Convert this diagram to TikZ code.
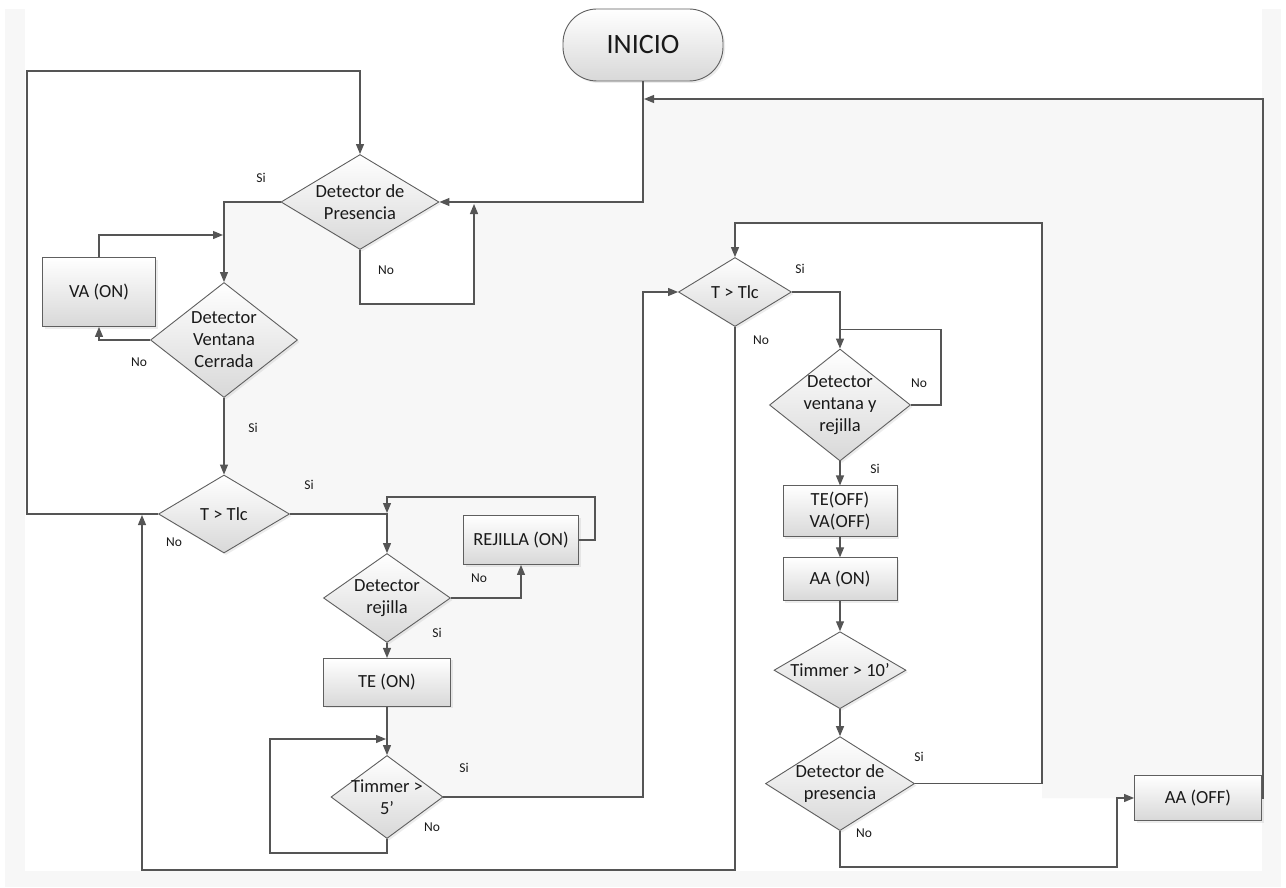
\documentclass[tikz,border=0pt]{standalone}
\usepackage{fontspec}
\setmainfont{Carlito}
\usepackage{tikz}
\usetikzlibrary{shapes.geometric,arrows.meta,positioning,calc,shadows}
\usepackage{xcolor}
\definecolor{cLine}{RGB}{85,85,85}
\definecolor{cEdge}{RGB}{95,95,95}
\definecolor{cShade}{RGB}{216,216,216}
\definecolor{cPage}{RGB}{247,247,247}
\definecolor{cText}{RGB}{25,25,25}
\tikzset{
  basebox/.style={draw=cEdge,line width=0.9pt,top color=white,bottom color=cShade,
                  align=center,text=cText,font=\fontsize{18.5}{22}\selectfont,
                  drop shadow={shadow xshift=2pt,shadow yshift=-2pt,opacity=0.15}},
  procnode/.style={basebox,rectangle,inner sep=2pt},
  termnode/.style={basebox,rectangle,rounded corners=34pt,
                   font=\fontsize{28}{32}\selectfont},
  decnode/.style={basebox,diamond,aspect=1.5,inner sep=-8pt},
  arr/.style={-{Triangle[length=10pt,width=8pt]},line width=1.2pt,color=cLine},
  plainline/.style={line width=1.2pt,color=cLine},
  lbl/.style={font=\fontsize{13.5}{16}\selectfont,text=cText,inner sep=0pt}
}
\begin{document}
\begin{tikzpicture}[x=1pt,y=-1pt,node distance=20pt]

  \useasboundingbox (0,0) rectangle (1286,888);
  % page background
  \fill[white] (0,0) rectangle (1286,888);
  \fill[cPage] (5,9) rectangle (1281,887);
  \fill[white] (25,9) rectangle (1262,871);
  \fill[cPage] (224,202) -- (643,202) -- (643,99) -- (1262,99) -- (1262,798)
               -- (1042,798) -- (1042,224) -- (735,224) -- (735,292) -- (643,292)
               -- (643,797) -- (387,797) -- (387,514) -- (224,514) -- cycle;
  \fill[white] (360,202) rectangle (474,303);

  \node[termnode,minimum width=160pt,minimum height=72pt] (inicio) at (643,45) {INICIO};

  \node[decnode,minimum width=158pt,minimum height=95pt] (ddp) at (360,202)
      {Detector de\\Presencia};
  \node[procnode,minimum width=113pt,minimum height=69pt] (vaon) at (99,292) {VA (ON)};
  \node[decnode,minimum width=147pt,minimum height=115pt] (dvc) at (224,340)
      {Detector\\Ventana\\Cerrada};
  \node[decnode,minimum width=131pt,minimum height=78pt] (tlc1) at (224,514) {T > Tlc};

  \node[decnode,minimum width=127pt,minimum height=89pt] (drej) at (387,598)
      {Detector\\rejilla};
  \node[procnode,minimum width=115pt,minimum height=49pt] (rejon) at (521,540)
      {REJILLA (ON)};
  \node[procnode,minimum width=127pt,minimum height=48pt,below=15pt of drej] (teon)
      {TE (ON)};
  \node[decnode,minimum width=112pt,minimum height=83pt] (t5) at (387,797)
      {Timmer >\\5'};

  % second column
  \node[decnode,minimum width=113pt,minimum height=69pt] (tlc2) at (735,292) {T > Tlc};
  \node[decnode,minimum width=141pt,minimum height=112pt] (dvyr) at (840,405)
      {Detector\\ventana y\\rejilla};
  \node[procnode,minimum width=114pt,minimum height=51pt,below=24pt of dvyr] (teva)
      {TE(OFF)\\VA(OFF)};
  \node[procnode,minimum width=114pt,minimum height=43pt,below=of teva] (aaon)
      {AA (ON)};
  \node[decnode,minimum width=132pt,minimum height=77pt,below=30pt of aaon] (t10)
      {Timmer > 10'};
  \node[decnode,minimum width=149pt,minimum height=94pt,below=27pt of t10] (dp2)
      {Detector de\\presencia};
  \node[procnode,minimum width=127pt,minimum height=45pt] (aaoff) at (1198,798)
      {AA (OFF)};

  \coordinate (ddp-j) at (474,204);
  \coordinate (va-j) at (223,235);
  \coordinate (rej-j) at (387,513);
  \coordinate (t5-j) at (386,739);
  \coordinate (tlc1-j) at (142,515);
  \coordinate (ini-j) at (644,99);

  \node[lbl] (ddp-si) at (261,178) {Si};
  \node[lbl] (ddp-no) at (386,270) {No};
  \node[lbl] (dvc-no) at (139,362) {No};
  \node[lbl] (dvc-si) at (253,428) {Si};
  \node[lbl] (tlc1-si) at (309,485) {Si};
  \node[lbl] (tlc1-no) at (174,542) {No};
  \node[lbl] (drej-no) at (479,578) {No};
  \node[lbl] (drej-si) at (437,633) {Si};
  \node[lbl] (t5-si) at (464,768) {Si};
  \node[lbl] (t5-no) at (432,827) {No};
  \node[lbl] (tlc2-si) at (800,269) {Si};
  \node[lbl] (tlc2-no) at (761,340) {No};
  \node[lbl] (dvyr-no) at (919,383) {No};
  \node[lbl] (dvyr-si) at (875,469) {Si};
  \node[lbl] (dp2-si) at (919,757) {Si};
  \node[lbl] (dp2-no) at (864,833) {No};

  \draw[arr] (inicio.south) |- (ddp.east);
  \draw[arr] (ddp.west) -| (dvc.north);
  \draw[arr] (ddp.south) -- ++(0,54) -| (ddp-j);
  \draw[arr] (vaon.north) |- (va-j);
  \draw[arr] (dvc.west) -| (vaon.south);
  \draw[arr] (dvc.south) -- (tlc1.north);
  \draw[arr] (tlc1.west) -| (27,71) -| (ddp.north);
  \draw[arr] (tlc1.east) -| (drej.north);
  \draw[arr] (rejon.east) -- ++(16,0) |- ($(rej-j)+(0,-16)$) -- (rej-j);
  \draw[arr] (drej.east) -| (rejon.south);
  \draw[arr] (drej.south) -- (teon.north);
  \draw[arr] (teon.south) -- (t5.north);
  \draw[arr] (t5.south) -- ++(0,14) -| (270,739) -- (t5-j);
  \draw[arr] (t5.east) -| ($(tlc2.west)+(-35,0)$) -- (tlc2.west);
  \draw[arr] (tlc2.south) |- (142,870) -- (tlc1-j);
  \draw[arr] (tlc2.east) -| (dvyr.north);
  \draw[plainline] (dvyr.east) -- ++(30,0) |- ($(dvyr.north)+(0,-19)$);
  \draw[arr] (dvyr.south) -- (teva.north);
  \draw[arr] (teva.south) -- (aaon.north);
  \draw[arr] (aaon.south) -- (t10.north);
  \draw[arr] (t10.south) -- (dp2.north);
  \draw[arr] (dp2.east) -| ($(tlc2.north)+(307,-34)$) -| (tlc2.north);
  \draw[arr] (dp2.south) |- ($(aaoff.west)+(-17,69)$) |- (aaoff.west);
  \draw[arr] (aaoff.east) -- ++(1,0) |- (ini-j);

\end{tikzpicture}
\end{document}
